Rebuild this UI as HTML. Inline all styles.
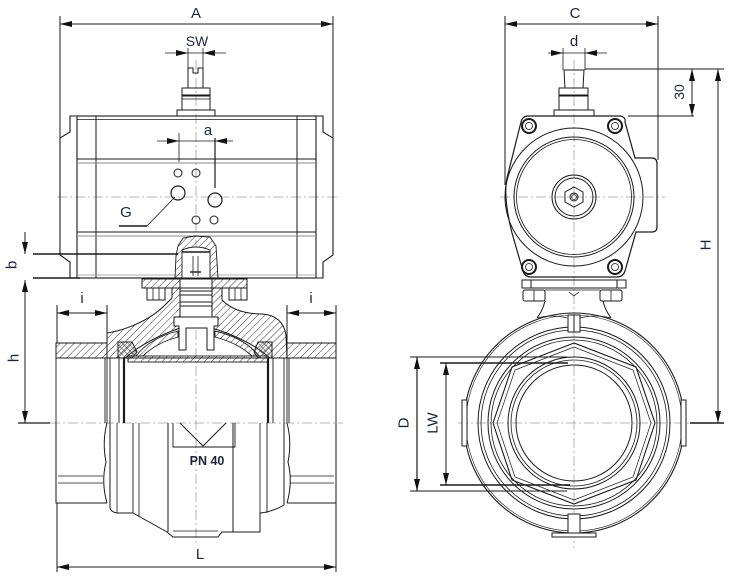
<!DOCTYPE html>
<html><head><meta charset="utf-8"><style>
html,body{margin:0;padding:0;background:#fff;}
svg{display:block;}
text{font-family:"Liberation Sans",sans-serif;fill:#1c2538;}
</style></head><body>
<svg width="733" height="579" viewBox="0 0 733 579" xmlns="http://www.w3.org/2000/svg">
<defs>
<pattern id="h" width="5" height="5" patternUnits="userSpaceOnUse" patternTransform="rotate(45)"><line x1="0" y1="0" x2="0" y2="5" stroke="#222" stroke-width="0.9"/></pattern>
<pattern id="x" width="4" height="4" patternUnits="userSpaceOnUse" patternTransform="rotate(45)"><line x1="0" y1="0" x2="0" y2="4" stroke="#222" stroke-width="0.9"/><line x1="0" y1="0" x2="4" y2="0" stroke="#222" stroke-width="0.9"/></pattern>
</defs>
<rect width="733" height="579" fill="#fff"/>

<!-- centerlines -->
<g stroke="#a0a0a0" stroke-width="0.8" stroke-dasharray="10,3,2,3" fill="none">
<line x1="57" y1="197" x2="340" y2="197"/>
<line x1="196" y1="60" x2="196" y2="545"/>
<line x1="50" y1="423" x2="343" y2="423"/>
<line x1="458" y1="423" x2="690" y2="423"/>
<line x1="574" y1="60" x2="574" y2="548"/>
<line x1="500" y1="197" x2="665" y2="197"/>
</g>

<!-- ============ LEFT VIEW ============ -->
<g stroke="#1a1a1a" fill="none" stroke-width="1">
<!-- dim A -->
<line x1="60" y1="24" x2="333" y2="24"/>
<line x1="60" y1="16" x2="60" y2="138"/>
<line x1="333" y1="16" x2="333" y2="138"/>
<!-- SW -->
<line x1="165" y1="53" x2="226" y2="53" stroke-width="0.8"/>
<line x1="188" y1="48" x2="188" y2="68" stroke-width="0.8"/>
<line x1="203" y1="48" x2="203" y2="68" stroke-width="0.8"/>
<!-- stem -->
<path d="M188,88 V68 H193 V73 H198 V68 H203 V88"/>
<rect x="182" y="88" width="28" height="22"/>
<line x1="182" y1="95.5" x2="210" y2="95.5" stroke-width="2"/>
<line x1="182" y1="99" x2="210" y2="99" stroke-width="0.7"/>
<rect x="177" y="110" width="38" height="6"/>
<!-- actuator -->
<rect x="77" y="116" width="239" height="162" stroke-width="1.1"/>
<line x1="77" y1="119.5" x2="316" y2="119.5" stroke-width="0.7"/>
<path d="M77,116 H70 V132 L60,138 V255 L70,262 V278 H77" stroke-width="1.1"/>
<path d="M316,116 H323 V132 L333,138 V255 L323,262 V278 H316" stroke-width="1.1"/>
<line x1="96" y1="116" x2="96" y2="278"/>
<line x1="297" y1="116" x2="297" y2="278"/>
<line x1="77" y1="159" x2="316" y2="159"/>
<line x1="77" y1="163" x2="316" y2="163" stroke="#888"/>
<line x1="77" y1="232" x2="316" y2="232"/>
<line x1="77" y1="236" x2="316" y2="236" stroke="#888"/>
<line x1="77" y1="275" x2="316" y2="275" stroke="#999" stroke-width="0.7"/>
<!-- holes -->
<circle cx="178" cy="173" r="4"/>
<circle cx="196" cy="173" r="4"/>
<circle cx="196" cy="220" r="4"/>
<circle cx="214" cy="220" r="4"/>
<circle cx="178" cy="193" r="7" stroke-width="1.2"/>
<circle cx="215" cy="200" r="7" stroke-width="1.2"/>
<!-- a -->
<line x1="157" y1="141" x2="233" y2="141" stroke-width="0.8"/>
<line x1="179" y1="133" x2="179" y2="162" stroke-width="0.8"/>
<line x1="215" y1="138" x2="215" y2="188" stroke-width="1.2"/>
<!-- G leader -->
<line x1="119" y1="226" x2="147" y2="226" stroke-width="1.5"/>
<line x1="147" y1="226" x2="175" y2="197" stroke-width="0.8"/>
<!-- b / h -->
<line x1="33" y1="254" x2="178" y2="254" stroke-width="1.4"/>
<line x1="33" y1="278" x2="80" y2="278" stroke-width="1.4"/>
<line x1="25" y1="232" x2="25" y2="254"/>
<line x1="25" y1="280" x2="25" y2="423"/>
<line x1="18" y1="423" x2="50" y2="423" stroke-width="1.2"/>
<!-- i dims -->
<line x1="57" y1="305" x2="57" y2="343"/>
<line x1="107" y1="305" x2="107" y2="343"/>
<line x1="57" y1="313" x2="107" y2="313"/>
<line x1="287" y1="305" x2="287" y2="343"/>
<line x1="336" y1="305" x2="336" y2="343"/>
<line x1="287" y1="313" x2="336" y2="313"/>
<!-- L -->
<line x1="57" y1="503" x2="57" y2="572"/>
<line x1="336" y1="503" x2="336" y2="572"/>
<line x1="57" y1="567" x2="336" y2="567"/>
</g>

<!-- coupling in actuator -->
<path d="M178,246 L183,238 L195,236 L210,237 L216,246 L218,278 H175 L176,256 Z" fill="url(#h)" stroke="#1a1a1a" stroke-width="0.9"/>
<path d="M182,250 Q196,244 210,250 V278 H182 Z" fill="#fff" stroke="#1a1a1a" stroke-width="0.9"/>
<g stroke="#1a1a1a" stroke-width="0.8">
<line x1="182" y1="252" x2="210" y2="252" stroke-width="1.6"/>
<line x1="193" y1="256" x2="193" y2="276"/>
<line x1="198" y1="256" x2="198" y2="276"/>
<line x1="190" y1="272" x2="201" y2="272" stroke-width="1.4"/>
</g>

<!-- bracket and nuts -->
<rect x="142" y="279" width="105" height="9" fill="url(#h)" stroke="#1a1a1a"/>
<rect x="180" y="279" width="32" height="9" fill="#fff" stroke="#1a1a1a"/>
<g fill="#fff" stroke="#1a1a1a" stroke-width="1">
<rect x="147" y="288" width="18" height="12"/>
<rect x="229" y="288" width="18" height="12"/>
</g>
<g stroke="#1a1a1a" stroke-width="0.8"><line x1="153" y1="288" x2="153" y2="300"/><line x1="159" y1="288" x2="159" y2="300"/><line x1="235" y1="288" x2="235" y2="300"/><line x1="241" y1="288" x2="241" y2="300"/></g>

<!-- valve body upper section -->
<rect x="56" y="343" width="51" height="15" fill="url(#h)" stroke="#1a1a1a"/>
<rect x="287" y="343" width="49" height="15" fill="url(#h)" stroke="#1a1a1a"/>
<path fill-rule="evenodd" fill="url(#h)" stroke="#1a1a1a" stroke-width="1"
 d="M107,358 L107,333 L117,331 C135,326 152,318 165,305 L172,298 L172,288 L222,288 L222,300 C232,310 245,314 262,314 C276,315 284,322 286,335 L287,358 Z
    M125,358 C140,345 160,335 180,328 L180,288 L212,288 L212,328 C235,335 255,345 270,358 Z"/>
<!-- ball band -->
<rect x="128" y="356" width="140" height="6" fill="url(#h)" stroke="#1a1a1a" stroke-width="0.9"/>
<path d="M136,356 Q150,338 178,331 L178,337 Q156,343 143,356 Z" fill="url(#h)" stroke="#1a1a1a" stroke-width="0.9"/>
<path d="M259,356 Q245,338 215,331 L215,337 Q238,343 252,356 Z" fill="url(#h)" stroke="#1a1a1a" stroke-width="0.9"/>
<!-- seats -->
<path d="M118,342 L132,342 L137,352 L132,358 L118,358 Z" fill="url(#x)" stroke="#1a1a1a"/>
<path d="M272,342 L258,342 L254,352 L258,358 L272,358 Z" fill="url(#x)" stroke="#1a1a1a"/>
<!-- stem internals -->
<rect x="180" y="288" width="32" height="29" fill="#fff" stroke="#1a1a1a"/>
<g stroke="#1a1a1a" fill="none">
<rect x="180" y="291" width="32" height="4" stroke-width="1"/>
<rect x="180" y="302" width="32" height="4" stroke-width="1"/>
<path d="M174,317 H218 V326 H214 V350 H207 V328 H186 V350 H179 V326 H174 Z" fill="#fff"/>
</g>

<!-- bore / body lines upper -->
<g stroke="#1a1a1a" fill="none" stroke-width="0.9">
<line x1="56" y1="358" x2="56" y2="423"/>
<line x1="105" y1="358" x2="105" y2="423"/>
<line x1="107" y1="358" x2="107" y2="423"/>
<line x1="110" y1="358" x2="110" y2="423"/>
<line x1="119" y1="358" x2="119" y2="423"/>
<line x1="124" y1="358" x2="124" y2="423" stroke-width="2.2"/>
<line x1="268" y1="358" x2="268" y2="423" stroke-width="2.2"/>
<line x1="273" y1="358" x2="273" y2="423"/>
<line x1="284" y1="358" x2="284" y2="423"/>
<line x1="287" y1="358" x2="287" y2="423"/>
<line x1="289" y1="358" x2="289" y2="423"/>
<line x1="336" y1="358" x2="336" y2="423"/>
<line x1="56" y1="358" x2="336" y2="358"/>
</g>

<!-- lower half body -->
<g stroke="#1a1a1a" fill="none" stroke-width="1">
<path d="M56,423 V503 H107"/>
<path d="M107,423 Q102,442 106,462 Q101,482 107,503"/>
<line x1="58" y1="476" x2="103" y2="476" stroke-width="0.8"/>
<line x1="58" y1="483" x2="103" y2="483" stroke-width="0.8"/>
<path d="M336,423 V503 H287"/>
<path d="M287,423 Q292,442 288,462 Q293,482 287,503"/>
<line x1="290" y1="476" x2="334" y2="476" stroke-width="0.8"/>
<line x1="290" y1="483" x2="334" y2="483" stroke-width="0.8"/>
<path d="M110,423 V508 Q111,512 117,513 H133 L167,532 L173,537 H218 L222,532 H233"/>
<path d="M233,532 H260 V513 Q272,512 284,505 V423"/>
<line x1="117" y1="423" x2="117" y2="513" stroke-width="0.8"/>
<line x1="133" y1="423" x2="133" y2="513" stroke-width="0.9"/>
<line x1="139" y1="423" x2="139" y2="517" stroke-width="0.8"/>
<line x1="168" y1="423" x2="168" y2="532"/>
<line x1="233" y1="423" x2="233" y2="532"/>
<line x1="260" y1="423" x2="260" y2="513" stroke-width="0.8"/>
<line x1="267" y1="423" x2="267" y2="513" stroke-width="0.9"/>
<path d="M173,423 V447 H235 V423" stroke-width="0.9"/>
<polyline points="180,423 203,446 226,423" stroke-width="1"/>
<line x1="173" y1="531" x2="218" y2="531" stroke-width="0.8"/>
</g>
<text x="207" y="465" text-anchor="middle" font-size="12.5" font-weight="bold" fill="#222">PN 40</text>

<!-- ============ RIGHT VIEW ============ -->
<g stroke="#1a1a1a" fill="none" stroke-width="1">
<line x1="505" y1="24" x2="658" y2="24"/>
<line x1="505" y1="16" x2="505" y2="185"/>
<line x1="658" y1="16" x2="658" y2="160"/>
<line x1="548" y1="53" x2="607" y2="53" stroke-width="0.8"/>
<line x1="563" y1="48" x2="563" y2="70" stroke-width="0.8"/>
<line x1="585" y1="48" x2="585" y2="70" stroke-width="0.8"/>
<path d="M565,88 L564,70 H584 L583,88"/>
<rect x="559" y="88" width="29" height="22"/>
<line x1="559" y1="95.5" x2="588" y2="95.5" stroke-width="2"/>
<rect x="554" y="110" width="40" height="6"/>
<!-- 30 / H -->
<line x1="585" y1="69" x2="724" y2="69"/>
<line x1="628" y1="116" x2="694" y2="116"/>
<line x1="692" y1="69" x2="692" y2="116"/>
<line x1="718" y1="69" x2="718" y2="423"/>
<line x1="690" y1="423" x2="724" y2="423" stroke-width="1.4"/>
<!-- actuator end view -->
<path d="M527,116 H620 Q626,117 625,122 L635,158 H652 Q657,158 657,164 V227 Q657,232 652,232 H636 L625,271 Q623,277 617,277 H531 Q525,277 523,271 L512,233 Q503,197 507,178 L521,122 Q522,117 527,116 Z" stroke-width="1.2"/>
<circle cx="574" cy="197" r="69"/>
<circle cx="574" cy="197" r="60"/>
<circle cx="574" cy="197" r="57.5" stroke-width="0.8"/>
<circle cx="574" cy="197" r="22"/>
<circle cx="574" cy="197" r="19"/>
<polygon points="574,187 583,192 583,202 574,207 565,202 565,192"/>
<circle cx="574" cy="197" r="4"/>
<circle cx="574" cy="197" r="2.5" stroke-width="0.7"/>
<g stroke-width="2"><circle cx="529" cy="126" r="7"/><circle cx="615" cy="126" r="7"/><circle cx="529" cy="267" r="7"/><circle cx="615" cy="267" r="7"/></g>
<g stroke-width="0.8"><circle cx="529" cy="126" r="3.5"/><circle cx="615" cy="126" r="3.5"/><circle cx="529" cy="267" r="3.5"/><circle cx="615" cy="267" r="3.5"/></g>
<!-- base -->
<rect x="522" y="280" width="104" height="8"/>
<line x1="531" y1="280" x2="531" y2="288"/>
<line x1="617" y1="280" x2="617" y2="288"/>
<rect x="523" y="290" width="22" height="11" rx="2"/>
<rect x="600" y="290" width="22" height="11" rx="2"/>
<line x1="534" y1="290" x2="534" y2="301" stroke-width="0.8"/>
<line x1="611" y1="290" x2="611" y2="301" stroke-width="0.8"/>
<line x1="545" y1="290" x2="600" y2="290" stroke-width="0.8"/>
<path d="M569,292 L574,296 L579,292" stroke-width="0.8"/>
<!-- neck -->
<path d="M545,301 Q543,310 537,318"/>
<path d="M603,301 Q605,310 611,318"/>
<path d="M537,318 Q552,314 567,318 M580,318 Q595,314 611,318" stroke-width="0.8"/>
<!-- valve end view -->
<circle cx="574" cy="423" r="110" stroke-width="1.1"/>
<circle cx="574" cy="423" r="108" stroke-width="0.6"/>
<circle cx="574" cy="423" r="96"/>
<circle cx="574" cy="423" r="93" stroke-width="0.8"/>
<circle cx="574" cy="423" r="86"/>
<circle cx="574" cy="423" r="83" stroke-width="0.8"/>
<polygon points="574,343 512,367 493,423 512,480 574,504 636,480 655,423 636,367" stroke-width="1.1"/>
<polygon points="574,347 515,370 497,423 515,477 574,500 633,477 651,423 633,370" stroke-width="0.7"/>
<circle cx="574" cy="423" r="66"/>
<circle cx="574" cy="423" r="63" stroke-width="0.8"/>
<circle cx="574" cy="423" r="58"/>
<rect x="568" y="315" width="12" height="17" fill="#fff"/>
<line x1="574" y1="315" x2="574" y2="332"/>
<rect x="568" y="514" width="12" height="20" fill="#fff"/>
<rect x="552" y="533" width="44" height="4" fill="#fff"/>
<rect x="462" y="400" width="5" height="46" fill="#fff"/>
<rect x="681" y="400" width="5" height="46" fill="#fff"/>
<!-- D / LW -->
<line x1="410" y1="357" x2="567" y2="357" stroke-width="0.9"/>
<line x1="410" y1="491" x2="567" y2="491" stroke-width="0.9"/>
<line x1="440" y1="363" x2="568" y2="363" stroke-width="1.6"/>
<line x1="440" y1="485" x2="570" y2="485" stroke-width="1.6"/>
<line x1="417" y1="357" x2="417" y2="491" stroke-width="1.2"/>
<line x1="446" y1="363" x2="446" y2="485"/>
</g>

<!-- arrowheads -->
<g fill="#111" stroke="none">
<polygon points="60,24 72,21 72,27"/><polygon points="333,24 321,21 321,27"/>
<polygon points="188,53 176,50 176,56"/><polygon points="203,53 215,50 215,56"/>
<polygon points="179,141 167,138 167,144"/><polygon points="215,141 227,138 227,144"/>
<polygon points="25,254 22,242 28,242"/><polygon points="25,280 22,292 28,292"/><polygon points="25,423 22,411 28,411"/>
<polygon points="57,313 69,310 69,316"/><polygon points="107,313 95,310 95,316"/>
<polygon points="287,313 299,310 299,316"/><polygon points="336,313 324,310 324,316"/>
<polygon points="57,567 69,564 69,570"/><polygon points="336,567 324,564 324,570"/>
<polygon points="505,24 517,21 517,27"/><polygon points="658,24 646,21 646,27"/>
<polygon points="563,53 551,50 551,56"/><polygon points="585,53 597,50 597,56"/>
<polygon points="692,69 689,81 695,81"/><polygon points="692,116 689,104 695,104"/>
<polygon points="718,69 715,81 721,81"/><polygon points="718,423 715,411 721,411"/>
<polygon points="417,357 414,369 420,369"/><polygon points="417,491 414,479 420,479"/>
<polygon points="446,363 443,375 449,375"/><polygon points="446,485 443,473 449,473"/>
</g>

<!-- labels -->
<g font-size="15" text-anchor="middle">
<text x="196" y="18">A</text>
<text x="197" y="46" font-size="14">SW</text>
<text x="208" y="135" font-size="15">a</text>
<text x="126" y="217">G</text>
<text x="82" y="303">i</text>
<text x="311" y="303">i</text>
<text x="200" y="559">L</text>
<text x="575" y="18">C</text>
<text x="574" y="46">d</text>
<text transform="translate(12,265) rotate(-90)" dominant-baseline="central">b</text>
<text transform="translate(14,358) rotate(-90)" dominant-baseline="central">h</text>
<text transform="translate(404,423) rotate(-90)" dominant-baseline="central">D</text>
<text transform="translate(433,423) rotate(-90)" dominant-baseline="central">LW</text>
<text transform="translate(679,92) rotate(-90)" dominant-baseline="central" font-size="14">30</text>
<text transform="translate(706,245) rotate(-90)" dominant-baseline="central">H</text>
</g>
</svg>
</body></html>
